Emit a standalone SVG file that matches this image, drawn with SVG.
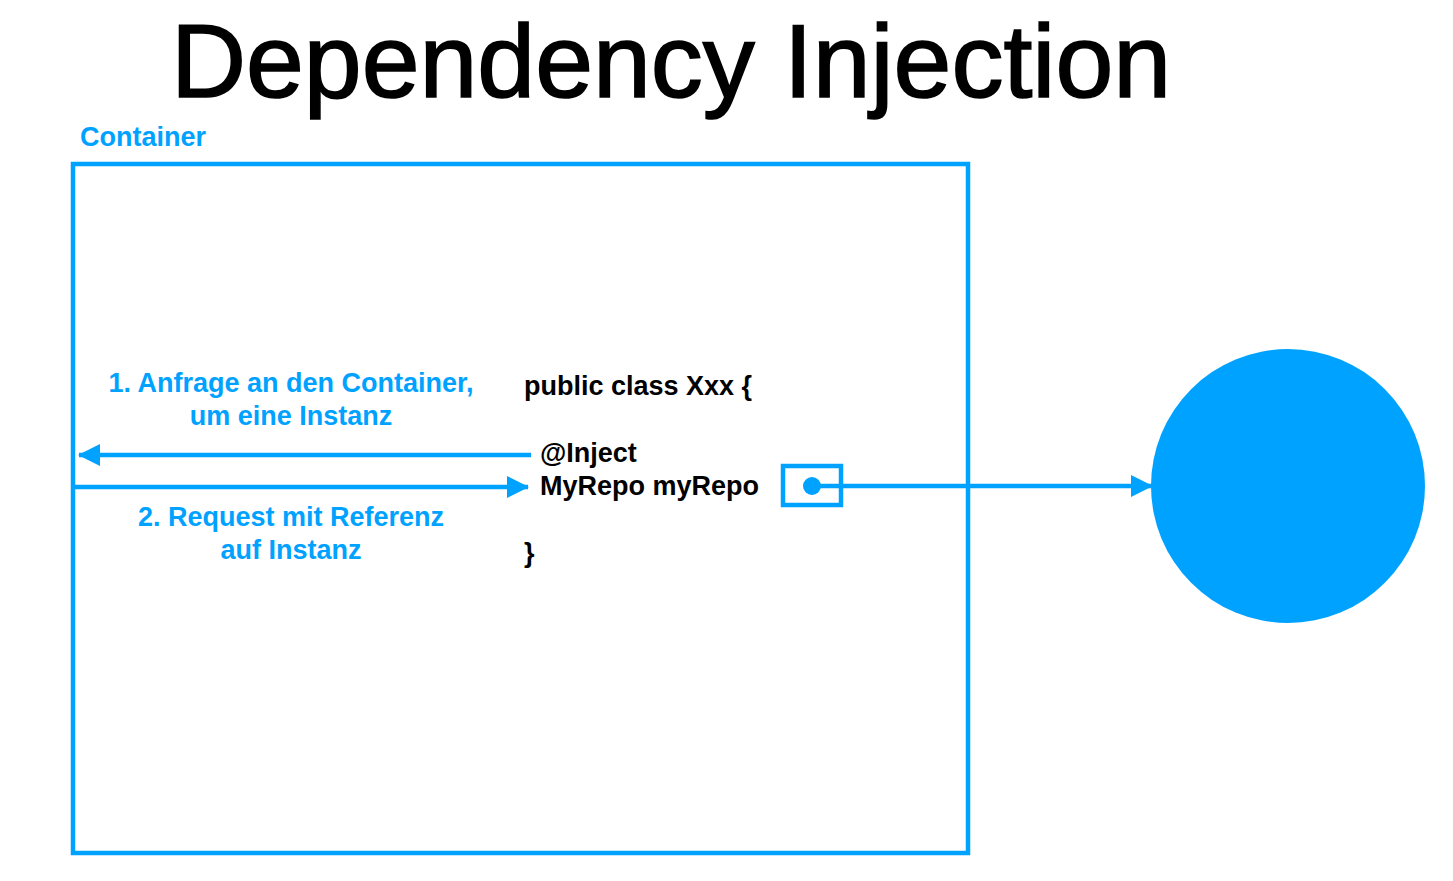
<svg xmlns="http://www.w3.org/2000/svg" width="1453" height="881" viewBox="0 0 1453 881">
<style>
.blue{fill:#00A2FF;font-family:"Liberation Sans",Arial,sans-serif;font-weight:bold;font-size:27px}
.code{fill:#000;font-family:"Liberation Sans",Arial,sans-serif;font-weight:bold;font-size:27px}
.line{stroke:#00A2FF;stroke-width:4.5;fill:none}
</style>
<defs>
<marker id="ah" viewBox="0 0 22 22" refX="21" refY="11" markerWidth="22" markerHeight="22" markerUnits="userSpaceOnUse" orient="auto">
<path d="M0,0 L22,11 L0,22 Z" fill="#00A2FF"/>
</marker>
</defs>
<rect width="1453" height="881" fill="#fff"/>
<text x="671" y="97" text-anchor="middle" font-family="'Liberation Sans',Arial,sans-serif" font-size="104" fill="#000" stroke="#000" stroke-width="1.6">Dependency Injection</text>
<g id="container">
<text class="blue" x="80" y="146">Container</text>
<rect x="73" y="164" width="895" height="689" class="line" stroke-width="4"/>
</g>
<g id="code">
<text class="code" x="524" y="395">public class Xxx {</text>
<text class="code" x="540" y="462">@Inject</text>
<text class="code" x="540" y="495">MyRepo myRepo</text>
<text class="code" x="524" y="562">}</text>
</g>
<g id="field">
<rect x="783" y="466" width="58" height="39" class="line" stroke-width="4"/>
<circle cx="812" cy="486" r="9" fill="#00A2FF"/>
</g>
<g id="instance">
<circle cx="1288" cy="486" r="137" fill="#00A2FF"/>
</g>
<g id="labels">
<text class="blue" x="291" y="392" text-anchor="middle">1. Anfrage an den Container,</text>
<text class="blue" x="291" y="425" text-anchor="middle">um eine Instanz</text>
<text class="blue" x="291" y="526" text-anchor="middle">2. Request mit Referenz</text>
<text class="blue" x="291" y="559" text-anchor="middle">auf Instanz</text>
</g>
<g id="connectors">
<line x1="531" y1="455" x2="79" y2="455" class="line" marker-end="url(#ah)"/>
<line x1="75" y1="487" x2="528" y2="487" class="line" marker-end="url(#ah)"/>
<line x1="812" y1="486" x2="1152" y2="486" class="line" marker-end="url(#ah)"/>
</g>
</svg>
